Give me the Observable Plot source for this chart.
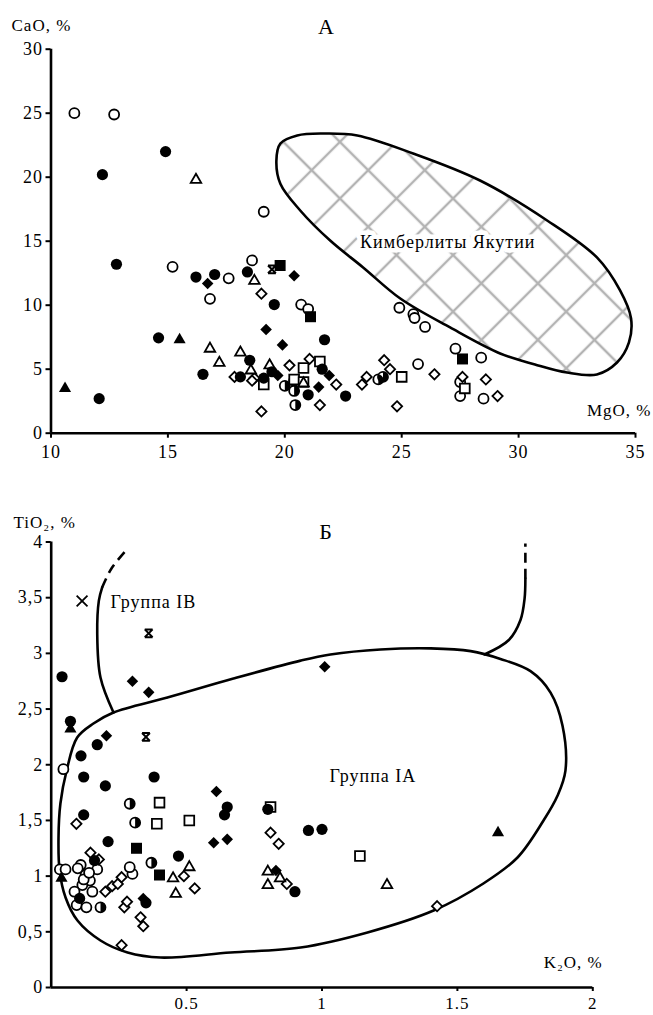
<!DOCTYPE html>
<html><head><meta charset="utf-8">
<script src="https://cdn.jsdelivr.net/npm/d3@7"></script>
<script src="https://cdn.jsdelivr.net/npm/@observablehq/plot@0.6"></script>
<style>
html,body{margin:0;padding:0;background:#fff;}
#chart svg{display:block;}
#chart svg, #chart svg text{font-family:"Liberation Serif","Times New Roman","DejaVu Serif",serif !important;letter-spacing:1px;}
</style></head><body>
<svg width="0" height="0" style="position:absolute">
<defs><pattern id="hatch" patternUnits="userSpaceOnUse" width="40" height="40" patternTransform="rotate(45)">
<path d="M0,20H40M20,0V40" stroke="#b3b3b3" stroke-width="2.4"/>
</pattern></defs></svg>
<div id="chart"></div>
<script>
// ---------- Panel A: MgO (x) vs CaO (y) ----------
const aXTicks = [10, 15, 20, 25, 30, 35];
const aYTicks = [0, 5, 10, 15, 20, 25, 30];
const aFilledCircle = [[14.9,22.0],[12.2,20.2],[12.8,13.2],[16.2,12.2],[17.0,12.4],[18.4,12.6],[19.55,10.05],[21.7,7.3],[14.6,7.45],[12.06,2.7],[16.5,4.6],[18.5,5.7],[18.1,4.4],[19.1,4.3],[19.45,4.8],[21.0,3.0],[21.6,5.0],[22.6,2.9]];
const aOpenCircle = [[11.0,25.0],[12.7,24.9],[19.1,17.3],[15.2,13.0],[17.6,12.1],[16.8,10.5],[18.6,13.5],[20.7,10.05],[21.0,9.7],[24.9,9.8],[25.5,9.3],[25.55,9.0],[26.0,8.3],[27.3,6.6],[28.4,5.9],[25.7,5.4],[27.5,4.0],[27.5,2.9],[28.5,2.7]];
const aHalfCircle = [[20.0,3.7],[20.4,4.1],[20.4,3.3],[20.45,2.2],[24.0,4.2],[24.2,4.4]];
const aFilledDiamond = [[16.7,11.7],[20.4,12.3],[19.2,8.1],[19.9,6.9],[19.7,4.5],[21.45,3.6],[21.9,4.5]];
const aOpenDiamond = [[19.0,10.9],[17.85,4.4],[18.7,4.3],[18.6,4.1],[20.2,5.3],[21.06,5.8],[21.5,2.2],[19.0,1.7],[22.2,3.8],[23.3,3.8],[23.5,4.4],[24.25,5.7],[24.5,5.0],[24.8,2.1],[26.4,4.6],[27.6,4.4],[28.6,4.2],[29.1,2.9]];
const aFilledSquare = [[19.8,13.1],[21.1,9.1],[27.6,5.8]];
const aOpenSquare = [[19.1,3.8],[20.8,5.1],[20.4,4.2],[20.8,4.0],[21.5,5.6],[25.0,4.4],[27.7,3.5]];
const aFilledTriangle = [[15.5,7.3],[10.6,3.5]];
const aOpenTriangle = [[16.2,19.8],[18.7,11.9],[16.8,6.6],[17.2,5.5],[18.1,6.3],[18.55,4.9],[19.35,5.3],[20.8,3.9]];
const aBarCross = [[19.45,12.8]];
const aCross = [];
// Outline of the Yakutian kimberlite field
const kimberliteOutline = [[19.81,22.63],[20.53,23.26],[21.65,23.41],[23.10,23.26],[25.49,21.85],[28.35,19.74],[31.22,16.62],[33.35,13.73],[34.34,11.15],[34.81,8.96],[34.72,7.09],[34.21,5.52],[33.35,4.59],[32.07,4.74],[30.70,5.37],[29.21,6.23],[27.07,8.26],[24.94,10.52],[23.35,12.95],[21.94,15.05],[20.66,17.40],[19.81,19.49],[19.64,21.29]];
const kimberliteLabel = [{x: 26.97, y: 14.9, text: "Кимберлиты Якутии"}];

// ---------- Panel B: K2O (x) vs TiO2 (y) ----------
const bXTicks = [0.5, 1, 1.5, 2];
const bYTicks = [0, 0.5, 1, 1.5, 2, 2.5, 3, 3.5, 4];
const bFilledCircle = [[0.04,2.79],[0.071,2.39],[0.17,2.18],[0.11,2.08],[0.12,1.89],[0.20,1.81],[0.38,1.89],[0.12,1.55],[0.65,1.62],[0.64,1.55],[0.80,1.60],[0.21,1.31],[0.95,1.41],[1.00,1.42],[0.47,1.18],[0.90,0.86],[0.16,1.14],[0.105,0.80],[0.35,0.76]];
const bOpenCircle = [[0.045,1.96],[0.032,1.06],[0.053,1.06],[0.109,1.10],[0.098,1.07],[0.17,1.06],[0.127,1.01],[0.143,0.96],[0.115,0.92],[0.086,0.86],[0.152,0.86],[0.094,0.74],[0.13,0.72],[0.30,1.02],[0.29,1.08],[0.12,0.97],[0.14,1.03]];
const bHalfCircle = [[0.29,1.65],[0.31,1.48],[0.37,1.12],[0.182,0.72]];
const bFilledDiamond = [[0.30,2.75],[0.36,2.65],[1.01,2.88],[0.204,2.26],[0.61,1.76],[0.60,1.30],[0.65,1.33],[0.83,1.05],[0.34,0.80]];
const bOpenDiamond = [[0.093,1.47],[0.81,1.39],[0.84,1.29],[0.49,1.00],[0.53,0.89],[0.87,0.93],[0.145,1.21],[0.176,1.15],[0.20,0.86],[0.225,0.91],[0.246,0.93],[0.26,0.99],[0.27,0.72],[0.28,0.77],[0.33,0.63],[0.34,0.55],[0.26,0.38],[1.425,0.73]];
const bFilledSquare = [[0.315,1.25],[0.40,1.01]];
const bOpenSquare = [[0.40,1.66],[0.39,1.47],[0.51,1.50],[0.81,1.62],[1.14,1.18]];
const bFilledTriangle = [[0.071,2.32],[0.038,0.98],[1.65,1.39]];
const bOpenTriangle = [[0.51,1.08],[0.45,0.98],[0.46,0.84],[0.80,1.04],[0.80,0.92],[0.845,0.98],[1.24,0.92]];
const bBarCross = [[0.36,3.18],[0.35,2.25]];
const bCross = [[0.114,3.47]];
// Field boundaries
const groupIAOutline = [[0.230,2.469],[0.429,2.603],[0.673,2.774],[0.921,2.935],[1.031,2.990],[1.216,3.035],[1.401,3.045],[1.549,3.020],[1.659,2.950],[1.770,2.840],[1.844,2.648],[1.888,2.352],[1.899,1.948],[1.870,1.724],[1.818,1.499],[1.722,1.167],[1.596,0.934],[1.412,0.691],[1.168,0.494],[0.921,0.359],[0.662,0.314],[0.404,0.269],[0.282,0.314],[0.182,0.422],[0.097,0.601],[0.053,0.808],[0.031,1.050],[0.027,1.347],[0.034,1.652],[0.057,1.948],[0.096,2.244],[0.156,2.370]];
const groupIBSolid = [[0.230,2.469],[0.182,2.783],[0.170,3.178],[0.176,3.474],[0.188,3.591]];
const groupIBDashed = [[0.188,3.591],[0.222,3.76],[0.280,3.935]];
const rightSolid = [[1.60,2.99],[1.690,3.12],[1.733,3.30],[1.748,3.49],[1.751,3.671]];
const rightDashed = [[1.751,3.671],[1.751,3.986]];
const labelIB = [{x: 0.219, y: 3.459, text: "Группа IB"}];
const labelIA = [{x: 1.188, y: 1.90, text: "Группа IA"}];

// ---------- shared helpers ----------
const halfDisk = {draw(ctx, size) {const r = Math.sqrt(size / Math.PI); ctx.moveTo(0, -r); ctx.arc(0, 0, r, -Math.PI / 2, Math.PI / 2); ctx.closePath();}};
const barCross = {draw(ctx, size) {const r = Math.sqrt(size) * 0.4431; ctx.moveTo(-r, -r); ctx.lineTo(r, r); ctx.moveTo(r, -r); ctx.lineTo(-r, r); ctx.moveTo(-r, -r); ctx.lineTo(r, -r); ctx.moveTo(-r, r); ctx.lineTo(r, r);}};
const X = d => d[0], Y = d => d[1];
const font = "Liberation Serif, Times New Roman, serif";

function markers(s) {
  const open = {fill: "white", stroke: "black", strokeWidth: 1.8};
  return [
    Plot.dot(s.openCircle, {x: X, y: Y, r: 5, ...open}),
    Plot.dot(s.halfCircle, {x: X, y: Y, r: 5, ...open}),
    Plot.dot(s.halfCircle, {x: X, y: Y, r: 5, symbol: halfDisk, fill: "black"}),
    Plot.dot(s.openDiamond, {x: X, y: Y, r: 4.6, symbol: "diamond2", ...open}),
    Plot.dot(s.openSquare, {x: X, y: Y, r: 6.2, symbol: "square2", ...open}),
    Plot.dot(s.openTriangle, {x: X, y: Y, r: 5, symbol: "triangle2", ...open}),
    Plot.dot(s.filledCircle, {x: X, y: Y, r: 5.6, fill: "black"}),
    Plot.dot(s.filledDiamond, {x: X, y: Y, r: 5.2, symbol: "diamond2", fill: "black"}),
    Plot.dot(s.filledSquare, {x: X, y: Y, r: 7, symbol: "square2", fill: "black"}),
    Plot.dot(s.filledTriangle, {x: X, y: Y, r: 5.8, symbol: "triangle2", fill: "black"}),
    Plot.dot(s.barCross, {x: X, y: Y, r: 5, symbol: barCross, stroke: "black", strokeWidth: 2, fill: "none"}),
    Plot.dot(s.cross, {x: X, y: Y, r: 5, symbol: "times", stroke: "black", strokeWidth: 1.8})
  ];
}
const baseStyle = {fontFamily: font, fontSize: "17px", color: "black", background: "white", overflow: "visible"};

const plotA = Plot.plot({
  width: 653, height: 490,
  marginLeft: 50.5, marginRight: 18, marginTop: 48.7, marginBottom: 57.3,
  x: {domain: [10, 35]}, y: {domain: [0, 30]},
  style: baseStyle,
  marks: [
    Plot.line(kimberliteOutline, {x: X, y: Y, curve: "catmull-rom-closed", fill: "url(#hatch)", stroke: "black", strokeWidth: 2.6}),
    Plot.text(kimberliteLabel, {x: "x", y: "y", text: "text", fontSize: 18, fill: "black", stroke: "white", strokeWidth: 9, paintOrder: "stroke"}),
    Plot.ruleX([10], {y1: 0, y2: 30, strokeWidth: 2.6}),
    Plot.ruleY([0], {x1: 10, x2: 35, strokeWidth: 2.6}),
    Plot.axisX({ticks: aXTicks, tickSize: 5, tickPadding: 7, strokeWidth: 2, label: null, fontSize: 18, tickFormat: d => String(d)}),
    Plot.axisY({ticks: aYTicks, tickSize: 5, tickPadding: 3, strokeWidth: 2, label: null, fontSize: 18, tickFormat: d => String(d)}),
    ...markers({filledCircle: aFilledCircle, openCircle: aOpenCircle, halfCircle: aHalfCircle, filledDiamond: aFilledDiamond, openDiamond: aOpenDiamond, filledSquare: aFilledSquare, openSquare: aOpenSquare, filledTriangle: aFilledTriangle, openTriangle: aOpenTriangle, barCross: aBarCross, cross: aCross}),
    Plot.text(["CaO, %"], {frameAnchor: "top-left", dx: -39.5, dy: -30.7, textAnchor: "start", fontSize: 17}),
    Plot.text(["А"], {frameAnchor: "top", dx: -16.7, dy: -30.7, fontSize: 22}),
    Plot.text(["MgO, %"], {frameAnchor: "bottom-right", dx: 16, dy: -17, textAnchor: "end", fontSize: 17})
  ]
});

const plotB = Plot.plot({
  width: 653, height: 525,
  marginLeft: 50.7, marginRight: 60.7, marginTop: 51.5, marginBottom: 28,
  x: {domain: [0, 2]}, y: {domain: [0, 4]},
  style: baseStyle,
  marks: [
    Plot.line(groupIAOutline, {x: X, y: Y, curve: "catmull-rom-closed", stroke: "black", strokeWidth: 2.6}),
    Plot.line(groupIBSolid, {x: X, y: Y, curve: "catmull-rom", stroke: "black", strokeWidth: 2.6}),
    Plot.line(groupIBDashed, {x: X, y: Y, curve: "catmull-rom", stroke: "black", strokeWidth: 2.6, strokeDasharray: "10,6", strokeLinecap: "butt"}),
    Plot.line(rightSolid, {x: X, y: Y, curve: "catmull-rom", stroke: "black", strokeWidth: 2.6}),
    Plot.line(rightDashed, {x: X, y: Y, stroke: "black", strokeWidth: 2.6, strokeDasharray: "10,6", strokeLinecap: "butt"}),
    Plot.ruleX([0], {y1: 0, y2: 4, strokeWidth: 2.6}),
    Plot.ruleY([0], {x1: 0, x2: 2, strokeWidth: 2.6}),
    Plot.axisX({ticks: bXTicks, tickSize: 4, tickPadding: 5, strokeWidth: 2, label: null, fontSize: 17, tickFormat: d => String(d)}),
    Plot.axisY({ticks: bYTicks, tickSize: 5, tickPadding: 3, strokeWidth: 2, label: null, fontSize: 18, tickFormat: d => String(d).replace(".", ",")}),
    Plot.text(labelIB, {x: "x", y: "y", text: "text", textAnchor: "start", fontSize: 18}),
    Plot.text(labelIA, {x: "x", y: "y", text: "text", textAnchor: "middle", fontSize: 18}),
    ...markers({filledCircle: bFilledCircle, openCircle: bOpenCircle, halfCircle: bHalfCircle, filledDiamond: bFilledDiamond, openDiamond: bOpenDiamond, filledSquare: bFilledSquare, openSquare: bOpenSquare, filledTriangle: bFilledTriangle, openTriangle: bOpenTriangle, barCross: bBarCross, cross: bCross}),
    Plot.text(["TiO₂, %"], {frameAnchor: "top-left", dx: -37.7, dy: -26.5, textAnchor: "start", fontSize: 17}),
    Plot.text(["Б"], {frameAnchor: "top", dx: 4, dy: -19, fontSize: 22}),
    Plot.text(["K₂O, %"], {frameAnchor: "bottom-right", dx: 10, dy: -20, textAnchor: "end", fontSize: 17})
  ]
});

document.getElementById("chart").append(plotA, plotB);
</script>
</body></html>
